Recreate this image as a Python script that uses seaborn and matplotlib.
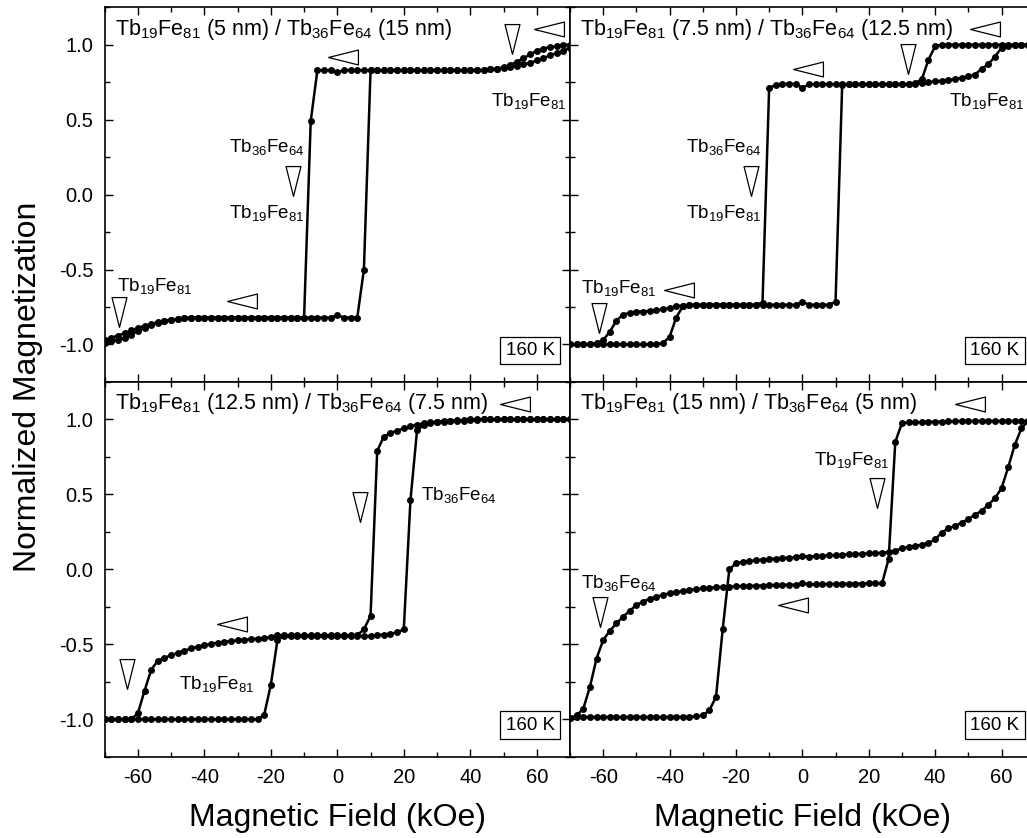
import matplotlib
matplotlib.use("Agg")
import matplotlib.pyplot as plt
from matplotlib.ticker import MultipleLocator
import seaborn as sns

# field grid (kOe), shared by all branches
FIELD = [-70, -68, -66, -64, -62, -60, -58, -56, -54, -52,
         -50, -48, -46, -44, -42, -40, -38, -36, -34, -32,
         -30, -28, -26, -24, -22, -20, -18, -16, -14, -12,
         -10, -8, -6, -4, -2, 0, 2, 4, 6, 8,
         10, 12, 14, 16, 18, 20, 22, 24, 26, 28,
         30, 32, 34, 36, 38, 40, 42, 44, 46, 48,
         50, 52, 54, 56, 58, 60, 62, 64, 66, 68,
         70]

# Tb19Fe81 (5 nm) / Tb36Fe64 (15 nm)
A_DOWN = [-0.97, -0.955, -0.94, -0.925, -0.905, -0.89, -0.875, -0.865, -0.85, -0.84,
          -0.835, -0.83, -0.825, -0.82, -0.82, -0.82, -0.82, -0.82, -0.82, -0.82,
          -0.82, -0.82, -0.82, -0.82, -0.82, -0.82, -0.82, -0.82, -0.82, -0.82,
          -0.82, 0.49, 0.83, 0.83, 0.83, 0.815, 0.83, 0.83, 0.83, 0.83,
          0.83, 0.83, 0.83, 0.83, 0.83, 0.83, 0.83, 0.83, 0.83, 0.83,
          0.83, 0.83, 0.83, 0.83, 0.83, 0.83, 0.83, 0.83, 0.835, 0.84,
          0.85, 0.865, 0.885, 0.91, 0.935, 0.96, 0.975, 0.985, 0.99, 1.0,
          1.0]
A_UP = [-0.99, -0.98, -0.97, -0.955, -0.935, -0.91, -0.89, -0.87, -0.855, -0.845,
        -0.835, -0.83, -0.825, -0.82, -0.82, -0.82, -0.82, -0.82, -0.82, -0.82,
        -0.82, -0.82, -0.82, -0.82, -0.82, -0.82, -0.82, -0.82, -0.82, -0.82,
        -0.82, -0.82, -0.82, -0.82, -0.82, -0.805, -0.82, -0.82, -0.82, -0.50,
        0.83, 0.83, 0.83, 0.83, 0.83, 0.83, 0.83, 0.83, 0.83, 0.83,
        0.83, 0.83, 0.83, 0.83, 0.83, 0.83, 0.83, 0.83, 0.835, 0.84,
        0.845, 0.85, 0.86, 0.87, 0.88, 0.895, 0.91, 0.93, 0.945, 0.96,
        0.98]

# Tb19Fe81 (7.5 nm) / Tb36Fe64 (12.5 nm)
B_DOWN = [-1.0, -1.0, -1.0, -1.0, -0.99, -0.97, -0.915, -0.84, -0.80, -0.79,
          -0.78, -0.78, -0.775, -0.77, -0.765, -0.755, -0.745, -0.74, -0.735, -0.735,
          -0.735, -0.735, -0.735, -0.735, -0.735, -0.735, -0.735, -0.735, -0.735, -0.72,
          0.714, 0.73, 0.737, 0.74, 0.737, 0.714, 0.735, 0.737, 0.737, 0.737,
          0.737, 0.737, 0.737, 0.737, 0.737, 0.737, 0.737, 0.737, 0.737, 0.737,
          0.737, 0.737, 0.745, 0.77, 0.90, 0.99, 1.0, 1.0, 1.0, 1.0,
          1.0, 1.0, 1.0, 1.0, 1.0, 1.0, 1.0, 1.0, 1.0, 1.0,
          1.0]
B_UP = [-1.0, -1.0, -1.0, -1.0, -1.0, -1.0, -1.0, -1.0, -1.0, -1.0,
        -1.0, -1.0, -1.0, -1.0, -0.99, -0.95, -0.82, -0.745, -0.735, -0.735,
        -0.735, -0.735, -0.735, -0.735, -0.735, -0.735, -0.735, -0.735, -0.735, -0.735,
        -0.735, -0.735, -0.735, -0.735, -0.735, -0.715, -0.735, -0.735, -0.735, -0.735,
        -0.715, 0.73, 0.737, 0.737, 0.737, 0.737, 0.737, 0.737, 0.737, 0.737,
        0.737, 0.737, 0.74, 0.745, 0.75, 0.755, 0.76, 0.765, 0.77, 0.78,
        0.79, 0.80, 0.84, 0.87, 0.92, 0.98, 0.995, 1.0, 1.0, 1.0,
        1.0]

# Tb19Fe81 (12.5 nm) / Tb36Fe64 (7.5 nm)
C_DOWN = [-1.0, -1.0, -1.0, -1.0, -1.0, -0.96, -0.81, -0.67, -0.61, -0.59,
          -0.573, -0.557, -0.543, -0.528, -0.515, -0.505, -0.497, -0.49, -0.483, -0.478,
          -0.474, -0.47, -0.466, -0.462, -0.458, -0.45, -0.44, -0.44, -0.44, -0.44,
          -0.44, -0.44, -0.44, -0.44, -0.44, -0.44, -0.44, -0.44, -0.44, -0.40,
          -0.31, 0.79, 0.886, 0.91, 0.925, 0.94, 0.955, 0.965, 0.975, 0.98,
          0.985, 0.99, 0.99, 0.993, 0.995, 1.0, 1.0, 1.0, 1.0, 1.0,
          1.0, 1.0, 1.0, 1.0, 1.0, 1.0, 1.0, 1.0, 1.0, 1.0,
          1.0]
C_UP = [-1.0, -1.0, -1.0, -1.0, -1.0, -1.0, -1.0, -1.0, -1.0, -1.0,
        -1.0, -1.0, -1.0, -1.0, -1.0, -1.0, -1.0, -1.0, -1.0, -1.0,
        -1.0, -1.0, -1.0, -1.0, -0.97, -0.77, -0.47, -0.445, -0.445, -0.445,
        -0.445, -0.445, -0.445, -0.445, -0.445, -0.445, -0.445, -0.445, -0.445, -0.445,
        -0.445, -0.44, -0.435, -0.43, -0.42, -0.40, 0.46, 0.93, 0.96, 0.975,
        0.98, 0.985, 0.99, 0.99, 0.99, 0.993, 0.995, 1.0, 1.0, 1.0,
        1.0, 1.0, 1.0, 1.0, 1.0, 1.0, 1.0, 1.0, 1.0, 1.0,
        1.0]

# Tb19Fe81 (15 nm) / Tb36Fe64 (5 nm)
D_DOWN = [-0.99, -0.975, -0.93, -0.785, -0.595, -0.472, -0.41, -0.361, -0.316, -0.276,
          -0.239, -0.215, -0.196, -0.183, -0.17, -0.16, -0.153, -0.145, -0.138, -0.132,
          -0.127, -0.123, -0.12, -0.117, -0.115, -0.113, -0.112, -0.11, -0.109, -0.108,
          -0.106, -0.105, -0.104, -0.103, -0.102, -0.092, -0.1, -0.1, -0.099, -0.098,
          -0.098, -0.097, -0.096, -0.095, -0.095, -0.094, -0.094, -0.094, 0.07, 0.85,
          0.975, 0.98, 0.98, 0.982, 0.984, 0.985, 0.986, 0.987, 0.988, 0.99,
          0.99, 0.99, 0.99, 0.99, 0.99, 0.99, 0.99, 0.99, 0.99, 0.99,
          0.99]
D_UP = [-0.99, -0.985, -0.985, -0.985, -0.985, -0.985, -0.985, -0.985, -0.985, -0.985,
        -0.985, -0.985, -0.985, -0.985, -0.985, -0.985, -0.985, -0.985, -0.985, -0.98,
        -0.975, -0.94, -0.85, -0.40, 0.0, 0.04, 0.05, 0.055, 0.06, 0.065,
        0.068, 0.072, 0.075, 0.078, 0.08, 0.09, 0.085, 0.088, 0.09, 0.093,
        0.095, 0.098, 0.10, 0.102, 0.104, 0.106, 0.108, 0.11, 0.115, 0.125,
        0.14, 0.15, 0.155, 0.165, 0.175, 0.20, 0.245, 0.274, 0.29, 0.31,
        0.335, 0.364, 0.39, 0.43, 0.474, 0.541, 0.68, 0.83, 0.94, 0.99,
        1.0]

TITLES = [
    r"Tb$_{19}$Fe$_{81}$ (5 nm) / Tb$_{36}$Fe$_{64}$ (15 nm)",
    r"Tb$_{19}$Fe$_{81}$ (7.5 nm) / Tb$_{36}$Fe$_{64}$ (12.5 nm)",
    r"Tb$_{19}$Fe$_{81}$ (12.5 nm) / Tb$_{36}$Fe$_{64}$ (7.5 nm)",
    r"Tb$_{19}$Fe$_{81}$ (15 nm) / Tb$_{36}$Fe$_{64}$ (5 nm)",
]
SOFT = r"Tb$_{19}$Fe$_{81}$"
HARD = r"Tb$_{36}$Fe$_{64}$"

sns.set_style("ticks")
plt.rcParams["font.family"] = ["Liberation Sans", "DejaVu Sans"]
plt.rcParams["mathtext.fontset"] = "custom"
plt.rcParams["mathtext.rm"] = "Liberation Sans"
plt.rcParams["mathtext.it"] = "Liberation Sans:italic"
plt.rcParams["mathtext.default"] = "regular"
plt.rcParams["axes.unicode_minus"] = False
for key in ("text.color", "axes.edgecolor", "axes.labelcolor",
            "xtick.color", "ytick.color"):
    plt.rcParams[key] = "black"

LEFT_TRI = [(-1, 0), (1, 0.5), (1, -0.5), (-1, 0)]
DOWN_TRI = [(0, -1), (0.5, 1), (-0.5, 1), (0, -1)]


def tri(ax, x, y, shape):
    ax.plot([x], [y], linestyle="none", marker=shape, markersize=21.5,
            markerfacecolor="none", markeredgecolor="black",
            markeredgewidth=0.9, clip_on=False)


def label(ax, x, y, s, size=13.5):
    ax.text(x, y, s, fontsize=size, ha="center", va="center")


fig = plt.figure(figsize=(10.27, 8.38), dpi=100)
x_left, x_mid, x_right = 0.1019, 0.555, 1.0075
y_bot, y_mid, y_top = 0.0970, 0.5442, 0.9913
axA = fig.add_axes([x_left, y_mid, x_mid - x_left, y_top - y_mid])
axB = fig.add_axes([x_mid, y_mid, x_right - x_mid, y_top - y_mid])
axC = fig.add_axes([x_left, y_bot, x_mid - x_left, y_mid - y_bot])
axD = fig.add_axes([x_mid, y_bot, x_right - x_mid, y_mid - y_bot])
axes = [axA, axB, axC, axD]
branches = [(A_DOWN, A_UP), (B_DOWN, B_UP), (C_DOWN, C_UP), (D_DOWN, D_UP)]

for i, (ax, (down, up)) in enumerate(zip(axes, branches)):
    for m in (down, up):
        sns.lineplot(x=FIELD, y=m, ax=ax, color="black", sort=False,
                     estimator=None, marker="o", markersize=5,
                     markeredgewidth=0, linewidth=1.8)
    ax.set_xlim(-70, 70)
    ax.set_ylim(-1.25, 1.25)
    ax.set_xticks([-60, -40, -20, 0, 20, 40, 60])
    ax.set_yticks([-1.0, -0.5, 0.0, 0.5, 1.0])
    ax.xaxis.set_minor_locator(MultipleLocator(10))
    ax.yaxis.set_minor_locator(MultipleLocator(0.25))
    ax.tick_params(which="both", direction="in", top=True, right=True,
                   labelsize=14.5, width=1.0, pad=8)
    ax.tick_params(which="major", length=6)
    ax.tick_params(which="minor", length=3.5)
    for sp in ax.spines.values():
        sp.set_linewidth(1.2)
    ax.set_xlabel("")
    ax.set_ylabel("")
    if i in (0, 1):
        ax.tick_params(labelbottom=False)
    if i in (1, 3):
        ax.tick_params(labelleft=False)
    ax.yaxis.set_major_formatter(plt.FormatStrFormatter("%.1f"))
    ax.text(-67, 1.105, TITLES[i], fontsize=15.5, ha="left", va="center")
    ax.text(58, -1.04, "160 K", fontsize=13.5, ha="center", va="center",
            bbox=dict(boxstyle="square,pad=0.28", facecolor="white",
                      edgecolor="black", linewidth=0.9))

# panel annotations
tri(axA, 63.6, 1.105, LEFT_TRI)
tri(axA, 52.5, 1.04, DOWN_TRI)
label(axA, 57.5, 0.625, SOFT)
tri(axA, 1.8, 0.92, LEFT_TRI)
label(axA, -21.3, 0.32, HARD)
tri(axA, -13.4, 0.09, DOWN_TRI)
label(axA, -21.3, -0.12, SOFT)
label(axA, -54.9, -0.61, SOFT)
tri(axA, -65.8, -0.78, DOWN_TRI)
tri(axA, -28.8, -0.71, LEFT_TRI)

tri(axB, 55, 1.105, LEFT_TRI)
tri(axB, 31.9, 0.904, DOWN_TRI)
tri(axB, 1.8, 0.837, LEFT_TRI)
label(axB, 55.5, 0.625, SOFT)
label(axB, -23.6, 0.32, HARD)
tri(axB, -15.5, 0.09, DOWN_TRI)
label(axB, -23.6, -0.12, SOFT)
label(axB, -55.4, -0.625, SOFT)
tri(axB, -37.3, -0.636, LEFT_TRI)
tri(axB, -61.4, -0.826, DOWN_TRI)

tri(axC, 53.5, 1.10, LEFT_TRI)
tri(axC, 6.8, 0.419, DOWN_TRI)
label(axC, 36.5, 0.497, HARD)
tri(axC, -31.8, -0.366, LEFT_TRI)
tri(axC, -63.2, -0.696, DOWN_TRI)
label(axC, -36.3, -0.763, SOFT)

tri(axD, 50.5, 1.10, LEFT_TRI)
label(axD, 14.9, 0.731, SOFT)
tri(axD, 22.4, 0.508, DOWN_TRI)
label(axD, -55.4, -0.094, HARD)
tri(axD, -61.1, -0.284, DOWN_TRI)
tri(axD, -2.7, -0.239, LEFT_TRI)

fig.text(0.027, 0.539, "Normalized Magnetization", fontsize=23,
         rotation=90, ha="center", va="center")
fig.text((x_left + x_mid) / 2, 0.024, "Magnetic Field (kOe)", fontsize=23,
         ha="center", va="center")
fig.text((x_mid + x_right) / 2, 0.024, "Magnetic Field (kOe)", fontsize=23,
         ha="center", va="center")

fig.savefig("out.png", dpi=100)
